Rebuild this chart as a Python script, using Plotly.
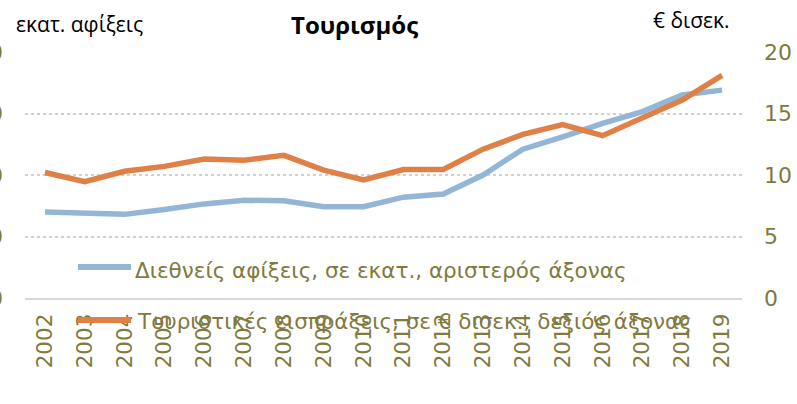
import plotly.graph_objects as go

years = [str(y) for y in range(2002, 2020)]
arrivals_mn = [14.0, 13.8, 13.6, 14.4, 15.3, 15.9, 15.8, 14.85, 14.85, 16.4, 16.9, 20.0,
               24.2, 26.2, 28.4, 30.3, 33.0, 33.8]
receipts_bn = [10.2, 9.45, 10.3, 10.7, 11.3, 11.2, 11.6, 10.4, 9.6, 10.45, 10.45, 12.1,
               13.3, 14.1, 13.2, 14.7, 16.1, 18.1]
left_ticks = [0, 10, 20, 30, 40]
right_ticks = [0, 5, 10, 15, 20]

name_arr = "Διεθνείς αφίξεις, σε εκατ., αριστερός άξονας"
name_rec = "Τουριστικές εισπράξεις, σε € δισεκ., δεξιός άξονας"
title = "Τουρισμός"
left_unit = "εκατ. αφίξεις"
right_unit = "€ δισεκ."

BLUE = "#94b6d6"
ORANGE = "#df8047"
OLIVE = "#7f7a3d"
GRID = "#d0d0d0"
FONT = "DejaVu Sans"

fig = go.Figure()
fig.add_trace(go.Scatter(x=years, y=arrivals_mn, name=name_arr, mode="lines",
                         line=dict(color=BLUE, width=5.5), yaxis="y"))
fig.add_trace(go.Scatter(x=years, y=receipts_bn, name=name_rec, mode="lines",
                         line=dict(color=ORANGE, width=5.5), yaxis="y2"))

W, H = 797, 404
ml, mr, mt, mb = 25, 55, 52, 106
PW, PH = W - ml - mr, H - mt - mb

fig.update_layout(
    width=W, height=H, showlegend=False,
    margin=dict(l=ml, r=mr, t=mt, b=mb, autoexpand=False),
    paper_bgcolor="white", plot_bgcolor="white",
    font=dict(family=FONT, color=OLIVE, size=20),
    xaxis=dict(type="category", range=[-0.5, 17.5], tickangle=-90,
               tickfont=dict(size=21.5, color=OLIVE, family=FONT),
               showgrid=False, showline=True, linecolor="#d9d9d9", linewidth=2,
               ticks="", ticklabelstandoff=5, automargin=False, zeroline=False),
    yaxis=dict(range=[0, 40], tickvals=left_ticks, showgrid=True, gridcolor=GRID,
               griddash="dot", gridwidth=1.5, zeroline=False, showline=False,
               tickfont=dict(size=22, color=OLIVE, family=FONT),
               ticklabelstandoff=21, automargin=False),
    yaxis2=dict(range=[0, 20], tickvals=right_ticks, overlaying="y", side="right",
                showgrid=False, zeroline=False, showline=False,
                tickfont=dict(size=22, color=OLIVE, family=FONT),
                ticklabelstandoff=21, automargin=False),
)

def px(x):
    return (x - ml) / PW

def py(y):
    return (H - mb - y) / PH

ann = [
    dict(text="<b>" + title + "</b>", x=px(354), y=py(25),
         font=dict(family="Open Sans", size=24, color="black"), xanchor="center", yanchor="middle"),
    dict(text=left_unit, x=px(14), y=py(24), font=dict(family="Open Sans", size=21, color="black"),
         xanchor="left", yanchor="middle"),
    dict(text=right_unit, x=px(651), y=py(20), font=dict(family="Open Sans", size=21, color="black"),
         xanchor="left", yanchor="middle"),
    dict(text=name_arr, x=px(133), y=py(270), font=dict(family=FONT, size=21.5, color=OLIVE),
         xanchor="left", yanchor="middle"),
    dict(text=name_rec, x=px(135), y=py(321), font=dict(family=FONT, size=21.5, color=OLIVE),
         xanchor="left", yanchor="middle"),
]
for a in ann:
    a.update(xref="paper", yref="paper", showarrow=False)
fig.update_layout(annotations=ann)

fig.update_layout(shapes=[
    dict(type="line", xref="paper", yref="paper", x0=px(78), x1=px(131), y0=py(267), y1=py(267),
         line=dict(color=BLUE, width=6)),
    dict(type="line", xref="paper", yref="paper", x0=px(78), x1=px(131), y0=py(320), y1=py(320),
         line=dict(color=ORANGE, width=6)),
])

fig.write_html("out.html", config={"displayModeBar": False},
               post_script="document.body.style.margin='0px';")
